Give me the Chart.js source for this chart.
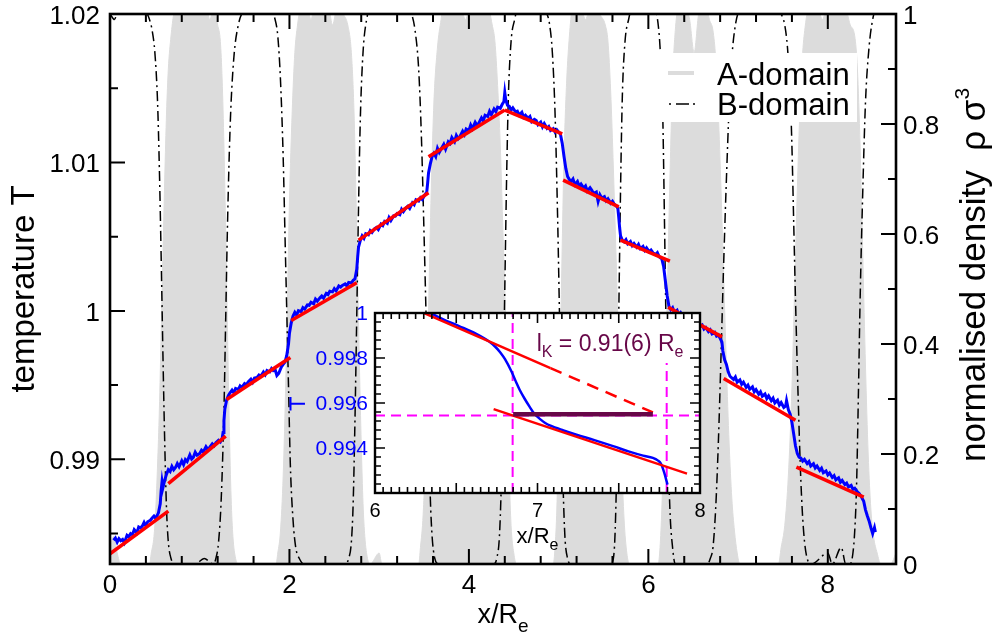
<!DOCTYPE html>
<html>
<head>
<meta charset="utf-8">
<script src="https://cdn.jsdelivr.net/npm/chart.js@4/dist/chart.umd.min.js"></script>
<style>
  html, body { margin: 0; padding: 0; background: #ffffff; }
  #wrap { position: relative; width: 993px; height: 634px; }
  #main { position: absolute; left: 0; top: 0; }
  #inset { position: absolute; left: 280px; top: 295px; }
</style>
</head>
<body>
<div id="wrap">
  <canvas id="main" width="993" height="634"></canvas>
  <canvas id="inset" width="440" height="270"></canvas>
</div>
<script>
// ---------------- DATA ----------------
// tick labels
const xTickLabels = ['0', '2', '4', '6', '8'];
const tTickLabels = ['0.99', '1', '1.01', '1.02'];
const rhoTickLabels = ['0', '0.2', '0.4', '0.6', '0.8', '1'];
const insetXTickLabels = ['6', '7', '8'];
const insetYTickLabels = ['0.994', '0.996', '0.998', '1'];

// A-domain density profile (x/Re, rho sigma^3)
const aDensity = [
  [0.00,0.03],[0.04,0.05],[0.08,0.02],[0.12,0.0],[0.30,0.0],[0.44,0.0],
  [0.46,0.02],[0.49,0.05],[0.51,0.10],[0.53,0.18],[0.55,0.28],[0.57,0.42],[0.59,0.56],[0.61,0.70],[0.63,0.82],[0.65,0.90],[0.68,0.96],[0.71,1.00],
  [0.76,1.03],[0.81,0.99],[0.86,1.04],[0.91,1.01],[0.96,1.05],[1.01,1.00],[1.06,1.03],[1.11,0.99],[1.16,1.01],[1.20,0.98],
  [1.23,0.95],[1.25,0.88],[1.27,0.76],[1.29,0.60],[1.31,0.42],[1.33,0.25],[1.35,0.12],[1.37,0.05],[1.40,0.01],[1.43,0.0],
  [1.65,0.0],[1.85,0.0],
  [1.87,0.02],[1.90,0.06],[1.93,0.16],[1.96,0.34],[1.98,0.50],[2.00,0.66],[2.03,0.82],[2.06,0.93],[2.09,0.98],[2.12,1.01],
  [2.18,1.03],[2.24,0.99],[2.30,1.04],[2.36,1.00],[2.42,1.03],[2.48,0.98],[2.54,1.02],[2.60,1.00],[2.65,0.98],
  [2.69,0.93],[2.72,0.82],[2.74,0.68],[2.76,0.52],[2.78,0.36],[2.80,0.22],[2.82,0.11],[2.84,0.05],[2.87,0.01],[2.90,0.0],
  [3.00,0.02],[3.03,0.0],[3.30,0.0],[3.44,0.0],
  [3.46,0.03],[3.49,0.09],[3.52,0.22],[3.55,0.46],[3.58,0.68],[3.61,0.84],[3.65,0.94],[3.69,0.99],[3.72,1.02],
  [3.80,1.00],[3.88,1.04],[3.96,0.99],[4.04,1.03],[4.12,1.00],[4.20,1.02],[4.26,0.98],
  [4.29,0.95],[4.32,0.87],[4.35,0.76],[4.38,0.60],[4.41,0.44],[4.43,0.29],[4.45,0.16],[4.47,0.07],[4.50,0.02],[4.53,0.0],
  [4.75,0.0],[4.94,0.0],
  [4.96,0.03],[4.98,0.10],[5.00,0.24],[5.02,0.40],[5.04,0.58],[5.06,0.74],[5.09,0.88],[5.12,0.96],[5.15,1.01],
  [5.22,1.03],[5.30,0.99],[5.38,1.04],[5.46,1.00],[5.52,0.98],
  [5.55,0.95],[5.58,0.86],[5.61,0.72],[5.64,0.56],[5.67,0.38],[5.70,0.20],[5.73,0.08],[5.76,0.02],[5.79,0.0],
  [5.95,0.0],[6.11,0.0],
  [6.13,0.03],[6.15,0.10],[6.18,0.26],[6.21,0.48],[6.24,0.70],[6.27,0.88],[6.30,0.97],[6.33,1.01],
  [6.40,1.02],[6.46,0.99],[6.51,0.93],[6.56,1.00],[6.62,1.03],[6.68,0.99],[6.72,0.97],
  [6.75,0.92],[6.78,0.82],[6.81,0.68],[6.84,0.52],[6.87,0.36],[6.90,0.22],[6.93,0.12],[6.96,0.06],[6.99,0.02],[7.02,0.0],
  [7.25,0.0],[7.45,0.0],
  [7.48,0.03],[7.52,0.07],[7.56,0.16],[7.60,0.32],[7.63,0.50],[7.66,0.68],[7.69,0.83],[7.72,0.93],[7.75,0.98],[7.78,1.01],
  [7.86,1.03],[7.94,0.99],[8.02,1.04],[8.10,1.00],[8.18,1.02],[8.25,0.98],[8.30,0.96],
  [8.33,0.90],[8.36,0.76],[8.39,0.56],[8.42,0.36],[8.45,0.20],[8.48,0.10],[8.51,0.05],[8.55,0.02],[8.59,0.0],
  [8.70,0.0],[8.76,0.02]
];

// B-domain density profile
const bDensity = [
  [0.00,1.00],[0.05,0.99],[0.10,1.02],[0.20,1.03],[0.30,1.02],[0.38,1.01],[0.44,0.99],
  [0.47,0.97],[0.50,0.93],[0.53,0.84],[0.55,0.72],[0.57,0.56],[0.59,0.38],[0.61,0.22],[0.63,0.10],[0.65,0.04],[0.68,0.01],[0.72,0.0],
  [0.95,0.0],[1.05,0.01],[1.15,0.0],
  [1.18,0.01],[1.21,0.04],[1.24,0.12],[1.27,0.28],[1.29,0.45],[1.31,0.62],[1.34,0.80],[1.38,0.92],[1.43,0.98],[1.50,1.01],
  [1.60,1.03],[1.70,1.02],[1.78,1.01],[1.84,0.99],
  [1.87,0.96],[1.90,0.88],[1.93,0.74],[1.95,0.60],[1.97,0.46],[1.99,0.32],[2.01,0.18],[2.04,0.08],[2.07,0.03],[2.11,0.01],[2.16,0.0],
  [2.40,0.0],[2.62,0.0],
  [2.66,0.01],[2.69,0.04],[2.71,0.11],[2.73,0.26],[2.75,0.45],[2.77,0.65],[2.79,0.81],[2.82,0.93],[2.86,0.99],[2.92,1.02],
  [3.00,1.03],[3.10,1.00],[3.20,1.02],[3.30,1.01],[3.36,1.00],
  [3.40,0.97],[3.44,0.90],[3.47,0.78],[3.50,0.60],[3.53,0.40],[3.55,0.25],[3.57,0.12],[3.59,0.05],[3.62,0.01],[3.66,0.0],
  [3.90,0.0],[4.10,0.0],[4.28,0.0],
  [4.31,0.01],[4.34,0.05],[4.36,0.14],[4.38,0.30],[4.40,0.50],[4.42,0.70],[4.44,0.85],[4.47,0.95],[4.51,0.99],[4.56,1.02],
  [4.70,1.03],[4.80,1.01],[4.87,1.00],
  [4.90,0.98],[4.93,0.93],[4.96,0.82],[4.99,0.62],[5.01,0.45],[5.03,0.28],[5.05,0.14],[5.07,0.05],[5.10,0.01],[5.14,0.0],
  [5.35,0.0],[5.58,0.0],
  [5.61,0.01],[5.63,0.06],[5.65,0.20],[5.67,0.45],[5.69,0.68],[5.71,0.85],[5.74,0.95],[5.78,0.99],[5.83,1.02],
  [5.95,1.03],[6.05,1.01],[6.09,1.00],
  [6.11,0.98],[6.13,0.94],[6.16,0.82],[6.18,0.62],[6.20,0.40],[6.22,0.22],[6.24,0.10],[6.27,0.03],[6.30,0.0],
  [6.50,0.0],[6.66,0.0],
  [6.69,0.01],[6.72,0.03],[6.75,0.10],[6.78,0.22],[6.81,0.38],[6.84,0.55],[6.87,0.70],[6.90,0.83],[6.93,0.92],[6.97,0.98],[7.02,1.01],
  [7.15,1.03],[7.30,1.02],[7.42,1.01],[7.48,1.00],
  [7.52,0.98],[7.55,0.94],[7.58,0.86],[7.60,0.76],[7.62,0.62],[7.64,0.48],[7.67,0.30],[7.70,0.15],[7.73,0.06],[7.77,0.01],[7.82,0.0],
  [8.00,0.02],[8.05,0.0],[8.15,0.03],[8.20,0.0],[8.25,0.0],
  [8.28,0.02],[8.30,0.06],[8.32,0.14],[8.34,0.30],[8.36,0.48],[8.39,0.68],[8.42,0.84],[8.46,0.94],[8.50,0.99],[8.56,1.02],
  [8.65,1.03],[8.76,1.01]
];

// temperature profile T(x)
const temperature = [
  [0.04,0.98455],[0.06,0.98470],[0.08,0.98442],[0.10,0.98466],[0.12,0.98452],[0.14,0.98460],[0.16,0.98438],[0.19,0.98488],[0.21,0.98478],[0.23,0.98500],[0.25,0.98492],[0.27,0.98526],[0.30,0.98505],[0.32,0.98545],[0.34,0.98538],[0.36,0.98550],[0.38,0.98575],[0.40,0.98552],[0.42,0.98580],[0.45,0.98590],[0.47,0.98605],[0.49,0.98618],[0.51,0.98602],[0.54,0.98640],
  [0.56,0.98700],[0.57,0.98790],[0.58,0.98850],[0.59,0.98810],[0.61,0.98860],[0.63,0.98900],[0.65,0.98930],
  [0.67,0.98918],[0.69,0.98952],[0.71,0.98930],[0.73,0.98945],[0.75,0.98972],[0.77,0.98950],[0.80,0.98990],[0.82,0.98965],[0.84,0.98998],[0.86,0.98985],[0.89,0.99030],[0.91,0.99002],[0.93,0.99015],[0.95,0.99048],[0.97,0.99028],[1.00,0.99040],[1.02,0.99062],[1.04,0.99050],[1.07,0.99085],[1.09,0.99068],[1.11,0.99080],[1.14,0.99105],[1.16,0.99092],[1.18,0.99112],[1.21,0.99128],[1.23,0.99118],[1.25,0.99140],
  [1.26,0.99180],[1.27,0.99260],[1.28,0.99340],[1.30,0.99400],[1.32,0.99430],
  [1.34,0.99450],[1.36,0.99466],[1.38,0.99448],[1.40,0.99478],[1.43,0.99470],[1.45,0.99495],[1.47,0.99485],[1.50,0.99510],[1.52,0.99502],[1.54,0.99522],[1.57,0.99540],[1.59,0.99520],[1.61,0.99548],[1.64,0.99552],[1.66,0.99568],[1.68,0.99560],[1.71,0.99588],[1.73,0.99570],[1.75,0.99598],[1.78,0.99590],[1.80,0.99612],[1.82,0.99598],[1.84,0.99605],[1.86,0.99565],[1.88,0.99578],[1.91,0.99622],[1.93,0.99640],[1.95,0.99655],
  [1.97,0.99700],[1.99,0.99780],[2.00,0.99850],[2.02,0.99920],[2.04,0.99965],
  [2.06,0.99990],[2.08,0.99972],[2.10,1.00002],[2.13,0.99995],[2.15,1.00022],[2.17,1.00012],[2.20,1.00040],[2.22,1.00038],[2.24,1.00058],[2.27,1.00048],[2.29,1.00080],[2.31,1.00066],[2.34,1.00088],[2.36,1.00100],[2.38,1.00086],[2.41,1.00118],[2.43,1.00110],[2.45,1.00132],[2.48,1.00128],[2.50,1.00150],[2.52,1.00135],[2.55,1.00168],[2.57,1.00160],[2.59,1.00172],[2.62,1.00182],[2.64,1.00168],[2.66,1.00192],[2.69,1.00188],[2.71,1.00206],[2.73,1.00215],
  [2.75,1.00280],[2.76,1.00360],[2.77,1.00430],[2.79,1.00475],
  [2.81,1.00505],[2.83,1.00488],[2.85,1.00520],[2.88,1.00512],[2.90,1.00540],[2.92,1.00528],[2.95,1.00555],[2.97,1.00562],[2.99,1.00548],[3.02,1.00585],[3.04,1.00575],[3.06,1.00602],[3.09,1.00590],[3.11,1.00628],[3.13,1.00608],[3.16,1.00640],[3.18,1.00638],[3.20,1.00655],[3.23,1.00648],[3.25,1.00685],[3.27,1.00668],[3.30,1.00695],[3.32,1.00705],[3.34,1.00690],[3.37,1.00728],[3.39,1.00715],[3.41,1.00748],[3.44,1.00740],[3.46,1.00762],[3.48,1.00750],[3.51,1.00782],[3.53,1.00800],
  [3.54,1.00860],[3.55,1.00930],[3.57,1.00990],[3.59,1.01040],
  [3.61,1.01062],[3.63,1.01040],[3.65,1.01095],[3.67,1.01068],[3.70,1.01100],[3.72,1.01122],[3.74,1.01090],[3.77,1.01140],[3.79,1.01128],[3.81,1.01168],[3.84,1.01140],[3.86,1.01182],[3.88,1.01160],[3.90,1.01175],[3.93,1.01210],[3.95,1.01188],[3.97,1.01225],[4.00,1.01215],[4.02,1.01252],[4.04,1.01228],[4.07,1.01270],[4.09,1.01250],[4.11,1.01265],[4.14,1.01300],[4.16,1.01280],[4.18,1.01318],[4.21,1.01310],[4.23,1.01345],[4.25,1.01322],[4.28,1.01360],[4.30,1.01342],[4.32,1.01372],[4.35,1.01365],[4.37,1.01390],[4.39,1.01410],[4.40,1.01470],[4.41,1.01425],[4.43,1.01385],
  [4.45,1.01378],[4.47,1.01352],[4.49,1.01368],[4.52,1.01340],[4.54,1.01345],[4.56,1.01320],[4.59,1.01338],[4.61,1.01305],[4.63,1.01318],[4.66,1.01298],[4.68,1.01310],[4.70,1.01275],[4.73,1.01290],[4.75,1.01282],[4.77,1.01255],[4.80,1.01272],[4.82,1.01240],[4.84,1.01262],[4.87,1.01230],[4.89,1.01242],[4.91,1.01215],[4.94,1.01228],[4.96,1.01205],[4.98,1.01220],[5.01,1.01198],[5.02,1.01190],
  [5.04,1.01130],[5.06,1.01040],[5.08,1.00960],[5.10,1.00905],[5.12,1.00885],
  [5.14,1.00872],[5.16,1.00888],[5.18,1.00850],[5.21,1.00872],[5.23,1.00840],[5.25,1.00855],[5.28,1.00828],[5.30,1.00842],[5.32,1.00808],[5.35,1.00830],[5.37,1.00812],[5.39,1.00790],[5.42,1.00800],[5.44,1.00738],[5.46,1.00782],[5.48,1.00760],[5.51,1.00770],[5.53,1.00742],[5.55,1.00755],[5.58,1.00725],[5.60,1.00738],[5.62,1.00718],[5.64,1.00710],[5.66,1.00690],
  [5.67,1.00630],[5.68,1.00560],[5.69,1.00505],[5.71,1.00475],
  [5.73,1.00465],[5.75,1.00480],[5.77,1.00452],[5.80,1.00468],[5.82,1.00440],[5.84,1.00455],[5.87,1.00430],[5.89,1.00448],[5.91,1.00420],[5.94,1.00435],[5.96,1.00408],[5.98,1.00425],[6.01,1.00398],[6.03,1.00410],[6.05,1.00392],[6.08,1.00380],[6.10,1.00392],[6.12,1.00365],[6.15,1.00350],
  [6.17,1.00300],[6.19,1.00200],[6.21,1.00100],[6.23,1.00030],
  [6.25,1.00008],[6.27,1.00022],[6.29,0.99990],[6.32,1.00005],[6.34,0.99972],[6.36,0.99988],[6.39,0.99958],[6.41,0.99970],[6.43,0.99940],[6.46,0.99955],[6.48,0.99925],[6.50,0.99940],[6.53,0.99910],[6.55,0.99922],[6.57,0.99892],[6.60,0.99905],[6.62,0.99878],[6.64,0.99888],[6.67,0.99860],[6.69,0.99872],[6.71,0.99845],[6.74,0.99855],[6.76,0.99830],[6.78,0.99838],[6.80,0.99815],
  [6.82,0.99790],[6.83,0.99730],[6.85,0.99670],[6.87,0.99640],[6.89,0.99590],[6.91,0.99560],[6.93,0.99548],
  [6.95,0.99538],[6.97,0.99555],[6.99,0.99520],[7.02,0.99535],[7.04,0.99505],[7.06,0.99520],[7.09,0.99485],[7.11,0.99500],[7.13,0.99472],[7.16,0.99488],[7.18,0.99455],[7.20,0.99470],[7.23,0.99438],[7.25,0.99455],[7.27,0.99425],[7.30,0.99440],[7.32,0.99410],[7.34,0.99428],[7.37,0.99395],[7.39,0.99412],[7.41,0.99380],[7.44,0.99398],[7.46,0.99365],[7.48,0.99382],[7.51,0.99350],[7.53,0.99360],[7.54,0.99395],[7.56,0.99335],[7.58,0.99305],
  [7.60,0.99250],[7.62,0.99170],[7.64,0.99090],[7.66,0.99040],[7.68,0.99015],
  [7.70,0.99008],[7.72,0.98988],[7.74,0.99000],[7.77,0.98972],[7.79,0.98985],[7.81,0.98955],[7.84,0.98970],[7.86,0.98942],[7.88,0.98955],[7.91,0.98925],[7.93,0.98940],[7.95,0.98910],[7.98,0.98922],[8.00,0.98895],[8.02,0.98908],[8.05,0.98878],[8.07,0.98890],[8.09,0.98862],[8.12,0.98875],[8.14,0.98845],[8.16,0.98858],[8.19,0.98830],[8.21,0.98840],[8.23,0.98815],[8.26,0.98825],[8.28,0.98798],[8.30,0.98805],[8.33,0.98780],[8.35,0.98770],[8.37,0.98752],
  [8.40,0.98718],[8.42,0.98660],[8.44,0.98620],[8.46,0.98585],[8.48,0.98540],[8.50,0.98500],[8.52,0.98540],[8.53,0.98510]
];

// linear fits of T inside each domain: [[x1,T1],[x2,T2]]
const fitSegments = [
  [[0.00,0.98364],[0.65,0.98651]],
  [[0.65,0.98836],[1.29,0.99157]],
  [[1.30,0.99403],[2.01,0.99686]],
  [[2.02,0.99935],[2.75,1.00189]],
  [[2.77,1.00477],[3.55,1.00796]],
  [[3.55,1.01038],[4.40,1.01353]],
  [[4.40,1.01353],[5.04,1.01192]],
  [[5.05,1.00881],[5.67,1.00701]],
  [[5.69,1.00477],[6.24,1.00336]],
  [[6.22,1.00025],[6.82,0.99825]],
  [[6.84,0.99544],[7.64,0.99263]],
  [[7.65,0.98948],[8.40,0.98746]]
];

// inset: smoothed T near the interface at x = 6.86
const insetTemperature = [
  [6.30,1.00012],[6.34,1.00000],[6.42,0.99972],[6.52,0.99941],[6.62,0.99908],[6.70,0.99874],[6.74,0.99850],[6.77,0.99826],
  [6.80,0.99795],[6.84,0.99740],[6.87,0.99690],[6.89,0.99659],[6.92,0.99620],[6.95,0.99585],[6.98,0.99553],[7.02,0.99526],
  [7.05,0.99510],[7.08,0.99499],[7.16,0.99478],[7.24,0.99459],[7.35,0.99435],[7.47,0.99407],[7.56,0.99385],[7.65,0.99366],
  [7.71,0.99356],[7.74,0.99345],[7.76,0.99330],[7.78,0.99290],[7.80,0.99237]
];
const insetFitUpper = [[6.25,1.00016],[7.08,0.99755]];
const insetFitUpperExtrapolated = [[7.08,0.99755],[7.71,0.99558]];
const insetFitLower = [[6.73,0.99573],[7.92,0.99286]];
const insetVLineLeft = [[6.847,0.992],[6.847,1.0]];
const insetVLineRight = [[7.795,0.992],[7.795,0.99778]];
const insetHLine = [[6.0,0.99545],[8.0,0.99545]];
const kuhnLengthBar = [[6.85,0.9955],[7.71,0.9955]];
const insetMark = [[5.569,0.99597],[5.48,0.99597],[5.48,null],[5.48,0.99627],[5.48,0.99567]];

// ---------------- HELPERS ----------------
const FONT = '"Liberation Sans", Arial, Helvetica, sans-serif';
const toXY = p => ({ x: p[0], y: p[1] });
const isMult = (v, step) => { const r = v / step; return Math.abs(r - Math.round(r)) < 1e-5; };

function richWidth(ctx, parts) {
  let w = 0;
  for (const p of parts) { ctx.font = p.size + 'px ' + FONT; w += ctx.measureText(p.t).width; }
  return w;
}
function drawRich(ctx, parts, x, y, align) {
  const w = richWidth(ctx, parts);
  let cx = align === 'center' ? x - w / 2 : (align === 'right' ? x - w : x);
  ctx.textAlign = 'left';
  ctx.textBaseline = 'alphabetic';
  for (const p of parts) {
    ctx.font = p.size + 'px ' + FONT;
    ctx.fillText(p.t, cx, y + (p.dy || 0));
    cx += ctx.measureText(p.t).width;
  }
}
function lineDS(data, color, width, extra) {
  return Object.assign({
    data: data.map(toXY), borderColor: color, backgroundColor: color, borderWidth: width,
    pointRadius: 0, fill: false, tension: 0
  }, extra || {});
}

// ---------------- MAIN CHART ----------------
const mainDecor = {
  id: 'mainDecor',
  afterDatasetsDraw(chart) {
    const ctx = chart.ctx;
    ctx.save();
    // legend box
    ctx.fillStyle = '#ffffff';
    ctx.fillRect(655, 53, 202, 69);
    ctx.strokeStyle = '#dcdcdc';
    ctx.lineWidth = 4;
    ctx.beginPath(); ctx.moveTo(668, 73); ctx.lineTo(694, 73); ctx.stroke();
    ctx.strokeStyle = '#000000';
    ctx.lineWidth = 1.5;
    ctx.setLineDash([2, 5, 13, 4]);
    ctx.beginPath(); ctx.moveTo(669, 104); ctx.lineTo(697, 104); ctx.stroke();
    ctx.setLineDash([]);
    ctx.fillStyle = '#000000';
    ctx.font = '31px ' + FONT;
    ctx.textAlign = 'left'; ctx.textBaseline = 'alphabetic';
    ctx.fillText('A-domain', 717, 85);
    ctx.fillText('B-domain', 717, 115);
    ctx.restore();
  },
  afterDraw(chart) {
    const ctx = chart.ctx;
    const { left, right, top, bottom } = chart.chartArea;
    const xs = chart.scales.x, yT = chart.scales.yT, yR = chart.scales.yR;
    ctx.save();
    ctx.strokeStyle = '#000000';
    ctx.lineWidth = 2;
    ctx.beginPath();
    xs.ticks.forEach(t => {
      if (!isMult(t.value, 0.4)) return;
      const p = xs.getPixelForValue(t.value);
      const len = xTickLabels.some(l => Math.abs(+l - t.value) < 1e-6) ? 15 : 8;
      ctx.moveTo(p, bottom); ctx.lineTo(p, bottom - len);
      ctx.moveTo(p, top); ctx.lineTo(p, top + len);
    });
    yT.ticks.forEach(t => {
      if (!isMult(t.value, 0.005)) return;
      const p = yT.getPixelForValue(t.value);
      const len = tTickLabels.some(l => Math.abs(+l - t.value) < 1e-7) ? 15 : 8;
      ctx.moveTo(left, p); ctx.lineTo(left + len, p);
    });
    yR.ticks.forEach(t => {
      if (!isMult(t.value, 0.1)) return;
      const p = yR.getPixelForValue(t.value);
      const len = rhoTickLabels.some(l => Math.abs(+l - t.value) < 1e-6) ? 15 : 8;
      ctx.moveTo(right, p); ctx.lineTo(right - len, p);
    });
    ctx.stroke();
    ctx.lineWidth = 2.6;
    ctx.strokeRect(left, top, right - left, bottom - top);

    // tick labels
    ctx.fillStyle = '#000000';
    ctx.font = '26px ' + FONT;
    ctx.textBaseline = 'alphabetic';
    ctx.textAlign = 'center';
    xTickLabels.forEach(l => ctx.fillText(l, xs.getPixelForValue(+l), bottom + 29));
    ctx.textAlign = 'right';
    tTickLabels.forEach(l => ctx.fillText(l, left - 10, yT.getPixelForValue(+l) + 10));
    ctx.textAlign = 'left';
    rhoTickLabels.forEach(l => ctx.fillText(l, right + 7, yR.getPixelForValue(+l) + 10));

    // axis titles
    drawRich(ctx, [{ t: 'x/R', size: 27 }, { t: 'e', size: 19, dy: 9 }], (left + right) / 2, 623, 'center');
    ctx.save();
    ctx.translate(34, (top + bottom) / 2);
    ctx.rotate(-Math.PI / 2);
    drawRich(ctx, [{ t: 'temperature T', size: 33 }], 0, 0, 'center');
    ctx.restore();
    ctx.save();
    ctx.translate(985, 275);
    ctx.rotate(-Math.PI / 2);
    drawRich(ctx, [{ t: 'normalised density  \u03C1 \u03C3', size: 35 }, { t: '3', size: 21, dy: -16 }], 0, 0, 'center');
    ctx.restore();
    ctx.restore();
  }
};

const mainChart = new Chart(document.getElementById('main'), {
  type: 'line',
  data: {
    datasets: [
      lineDS(aDensity, '#dcdcdc', 1, { yAxisID: 'yR', fill: 'origin', cubicInterpolationMode: 'monotone', order: 5 }),
      lineDS(bDensity, '#000000', 1.5, { yAxisID: 'yR', borderDash: [10, 4, 2, 4], cubicInterpolationMode: 'monotone', order: 4 }),
      lineDS(temperature, '#0000ff', 3, { yAxisID: 'yT', order: 3 }),
      ...fitSegments.map(s => lineDS(s, '#ff0000', 3.5, { yAxisID: 'yT', order: 1 }))
    ]
  },
  options: {
    responsive: false,
    animation: false,
    devicePixelRatio: 1,
    layout: { padding: { top: 14, left: 0, right: 0, bottom: 0 } },
    plugins: { legend: { display: false }, tooltip: { enabled: false } },
    scales: {
      x: {
        type: 'linear', position: 'bottom', min: 0, max: 8.76,
        ticks: { stepSize: 0.4, display: false },
        grid: { display: false }, border: { display: false },
        afterFit(s) { s.height = 70; }
      },
      yT: {
        type: 'linear', position: 'left', min: 0.98295, max: 1.02,
        ticks: { stepSize: 0.005, display: false },
        grid: { display: false }, border: { display: false },
        afterFit(s) { s.width = 110; }
      },
      yR: {
        type: 'linear', position: 'right', min: 0, max: 1,
        ticks: { stepSize: 0.1, display: false },
        grid: { display: false }, border: { display: false },
        afterFit(s) { s.width = 97; }
      }
    }
  },
  plugins: [mainDecor]
});

// ---------------- INSET CHART ----------------
const insetDecor = {
  id: 'insetDecor',
  beforeDraw(chart) {
    const { left, right, top, bottom } = chart.chartArea;
    const ctx = chart.ctx;
    ctx.save();
    ctx.fillStyle = '#ffffff';
    ctx.fillRect(left, top, right - left, bottom - top);
    ctx.restore();
  },
  afterDatasetsDraw(chart) {
    const ctx = chart.ctx;
    const xs = chart.scales.x, ys = chart.scales.y;
    ctx.save();
    ctx.fillStyle = '#670748';
    drawRich(ctx, [{ t: 'l', size: 23 }, { t: 'K', size: 16, dy: 6 }, { t: ' = 0.91(6) R', size: 23 }, { t: 'e', size: 16, dy: 6 }],
      xs.getPixelForValue(6.995), ys.getPixelForValue(0.99829), 'left');
    ctx.restore();
  },
  afterDraw(chart) {
    const ctx = chart.ctx;
    const { left, right, top, bottom } = chart.chartArea;
    const xs = chart.scales.x, ys = chart.scales.y;
    ctx.save();
    ctx.strokeStyle = '#000000';
    ctx.lineWidth = 1.6;
    ctx.beginPath();
    xs.ticks.forEach(t => {
      if (!isMult(t.value, 0.05)) return;
      const p = xs.getPixelForValue(t.value);
      const len = isMult(t.value, 0.5) ? 10 : 6;
      ctx.moveTo(p, bottom); ctx.lineTo(p, bottom - len);
      ctx.moveTo(p, top); ctx.lineTo(p, top + len);
    });
    ys.ticks.forEach(t => {
      if (!isMult(t.value, 0.0004)) return;
      const p = ys.getPixelForValue(t.value);
      const len = isMult(t.value, 0.002) ? 10 : 6;
      ctx.moveTo(left, p); ctx.lineTo(left + len, p);
      ctx.moveTo(right, p); ctx.lineTo(right - len, p);
    });
    ctx.stroke();
    ctx.lineWidth = 2.4;
    ctx.strokeRect(left, top, right - left, bottom - top);

    ctx.font = '21px ' + FONT;
    ctx.textBaseline = 'alphabetic';
    ctx.fillStyle = '#0000ff';
    ctx.textAlign = 'right';
    insetYTickLabels.forEach(l => ctx.fillText(l, left - 7, ys.getPixelForValue(+l) + 7));
    ctx.font = '20px ' + FONT;
    ctx.fillStyle = '#000000';
    ctx.textAlign = 'center';
    insetXTickLabels.forEach(l => ctx.fillText(l, xs.getPixelForValue(+l), bottom + 24));
    drawRich(ctx, [{ t: 'x/R', size: 22 }, { t: 'e', size: 16, dy: 7 }], (left + right) / 2, bottom + 50, 'center');
    ctx.restore();
  }
};

const insetChart = new Chart(document.getElementById('inset'), {
  type: 'line',
  data: {
    datasets: [
      lineDS(insetVLineLeft, '#ff00ff', 2, { borderDash: [10, 6], order: 6 }),
      lineDS(insetVLineRight, '#ff00ff', 2, { borderDash: [10, 6], order: 6 }),
      lineDS(insetHLine, '#ff00ff', 2, { borderDash: [10, 6], order: 6 }),
      lineDS(insetTemperature, '#0000ff', 2.5, { cubicInterpolationMode: 'monotone', order: 5 }),
      lineDS(insetFitUpper, '#ff0000', 2.5, { order: 4 }),
      lineDS(insetFitUpperExtrapolated, '#ff0000', 2.5, { borderDash: [12, 8], order: 4 }),
      lineDS(insetFitLower, '#ff0000', 2.5, { order: 4 }),
      lineDS(kuhnLengthBar, '#670748', 4.5, { order: 2 }),
      lineDS(insetMark, '#0000ff', 2, { clip: false, spanGaps: false, order: 1 })
    ]
  },
  options: {
    responsive: false,
    animation: false,
    devicePixelRatio: 1,
    layout: { padding: { top: 18, left: 0, right: 20, bottom: 0 } },
    plugins: { legend: { display: false }, tooltip: { enabled: false } },
    scales: {
      x: {
        type: 'linear', min: 6, max: 8,
        ticks: { stepSize: 0.05, display: false },
        grid: { display: false }, border: { display: false },
        afterFit(s) { s.height = 72; }
      },
      y: {
        type: 'linear', min: 0.992, max: 1.0,
        ticks: { stepSize: 0.0004, display: false },
        grid: { display: false }, border: { display: false },
        afterFit(s) { s.width = 95; }
      }
    }
  },
  plugins: [insetDecor]
});
</script>
</body>
</html>
